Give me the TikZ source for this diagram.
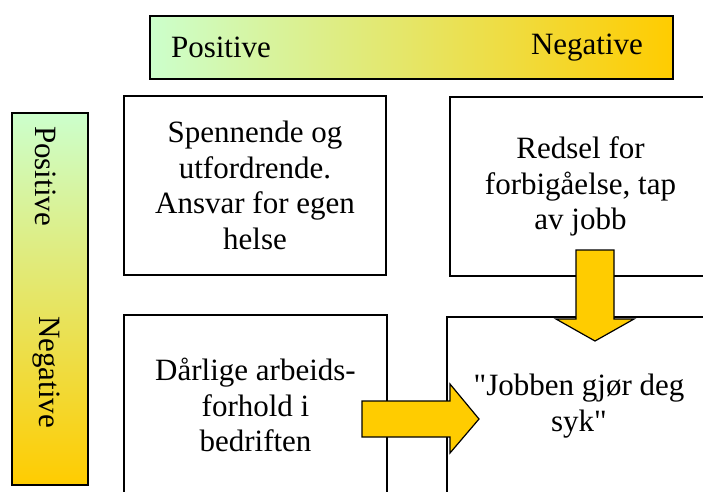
\documentclass[tikz,border=0pt]{standalone}
\usepackage{fontspec}
\setmainfont{Liberation Serif}
\newfontfamily\boxfont{Liberation Serif}[Ligatures=NoCommon]
\usepackage{tikz}
\definecolor{pos}{RGB}{204, 255, 204}
\definecolor{neg}{RGB}{255, 204, 0}
\usetikzlibrary{positioning}

\begin{document}
\begin{tikzpicture}[every node/.style={inner sep=0pt, font=\boxfont\fontsize{31}{35.5}\selectfont},
  box/.style={draw=black, line width=1.2pt, align=center},
  blockarrow/.style={fill=neg, draw=black, line width=1.2pt, line join=miter}]
\useasboundingbox (0pt, 0pt) rectangle (703pt, -491pt);
\clip (0pt, 0pt) rectangle (703pt, -491pt);
% scales
\node (hbar) [draw=black, line width=1.2pt, left color=pos, right color=neg, minimum width=523pt, minimum height=63pt] at (411.5pt, -47.5pt) {};
\node (hpos) at (221.0pt, -47.5pt) {Positive};
\node (hneg) at (587.0pt, -47.5pt) {Negative};
\node (vbar) [draw=black, line width=1.2pt, top color=pos, bottom color=neg, minimum width=76pt, minimum height=372pt] at (50.0pt, -299.0pt) {};
\node (vpos) [rotate=-90] at (46.0pt, -176.0pt) {Positive};
\node (vneg) [rotate=-90] at (46.0pt, -372.0pt) {Negative};
% boxes
\node (pp) [box, minimum width=262pt, minimum height=179pt] at (255.0pt, -185.5pt) {Spennende og\\utfordrende.\\Ansvar for egen\\helse};
\node (pn) [box, minimum width=261pt, minimum height=179pt] at (580.5pt, -186.5pt) {Redsel for\\forbigåelse, tap\\av jobb};
\node (np) [box, minimum width=263pt, minimum height=180pt] at (255.5pt, -405.0pt) {Dårlige arbeids-\\forhold i\\bedriften};
\node (nn) [box, minimum width=264pt, minimum height=178pt] at (579.0pt, -406.0pt) {"Jobben gjør deg\\syk"};
% arrows
\draw [blockarrow] (576pt, -250pt) -- (614pt, -250pt) -- (614pt, -319pt) -- (634pt, -319pt) -- (595pt, -341pt) -- (556pt, -319pt) -- (576pt, -319pt) -- cycle;
\draw [blockarrow] (362pt, -401pt) -- (450pt, -401pt) -- (450pt, -384pt) -- (479pt, -419pt) -- (450pt, -453pt) -- (450pt, -437pt) -- (362pt, -437pt) -- cycle;
\end{tikzpicture}
\end{document}
